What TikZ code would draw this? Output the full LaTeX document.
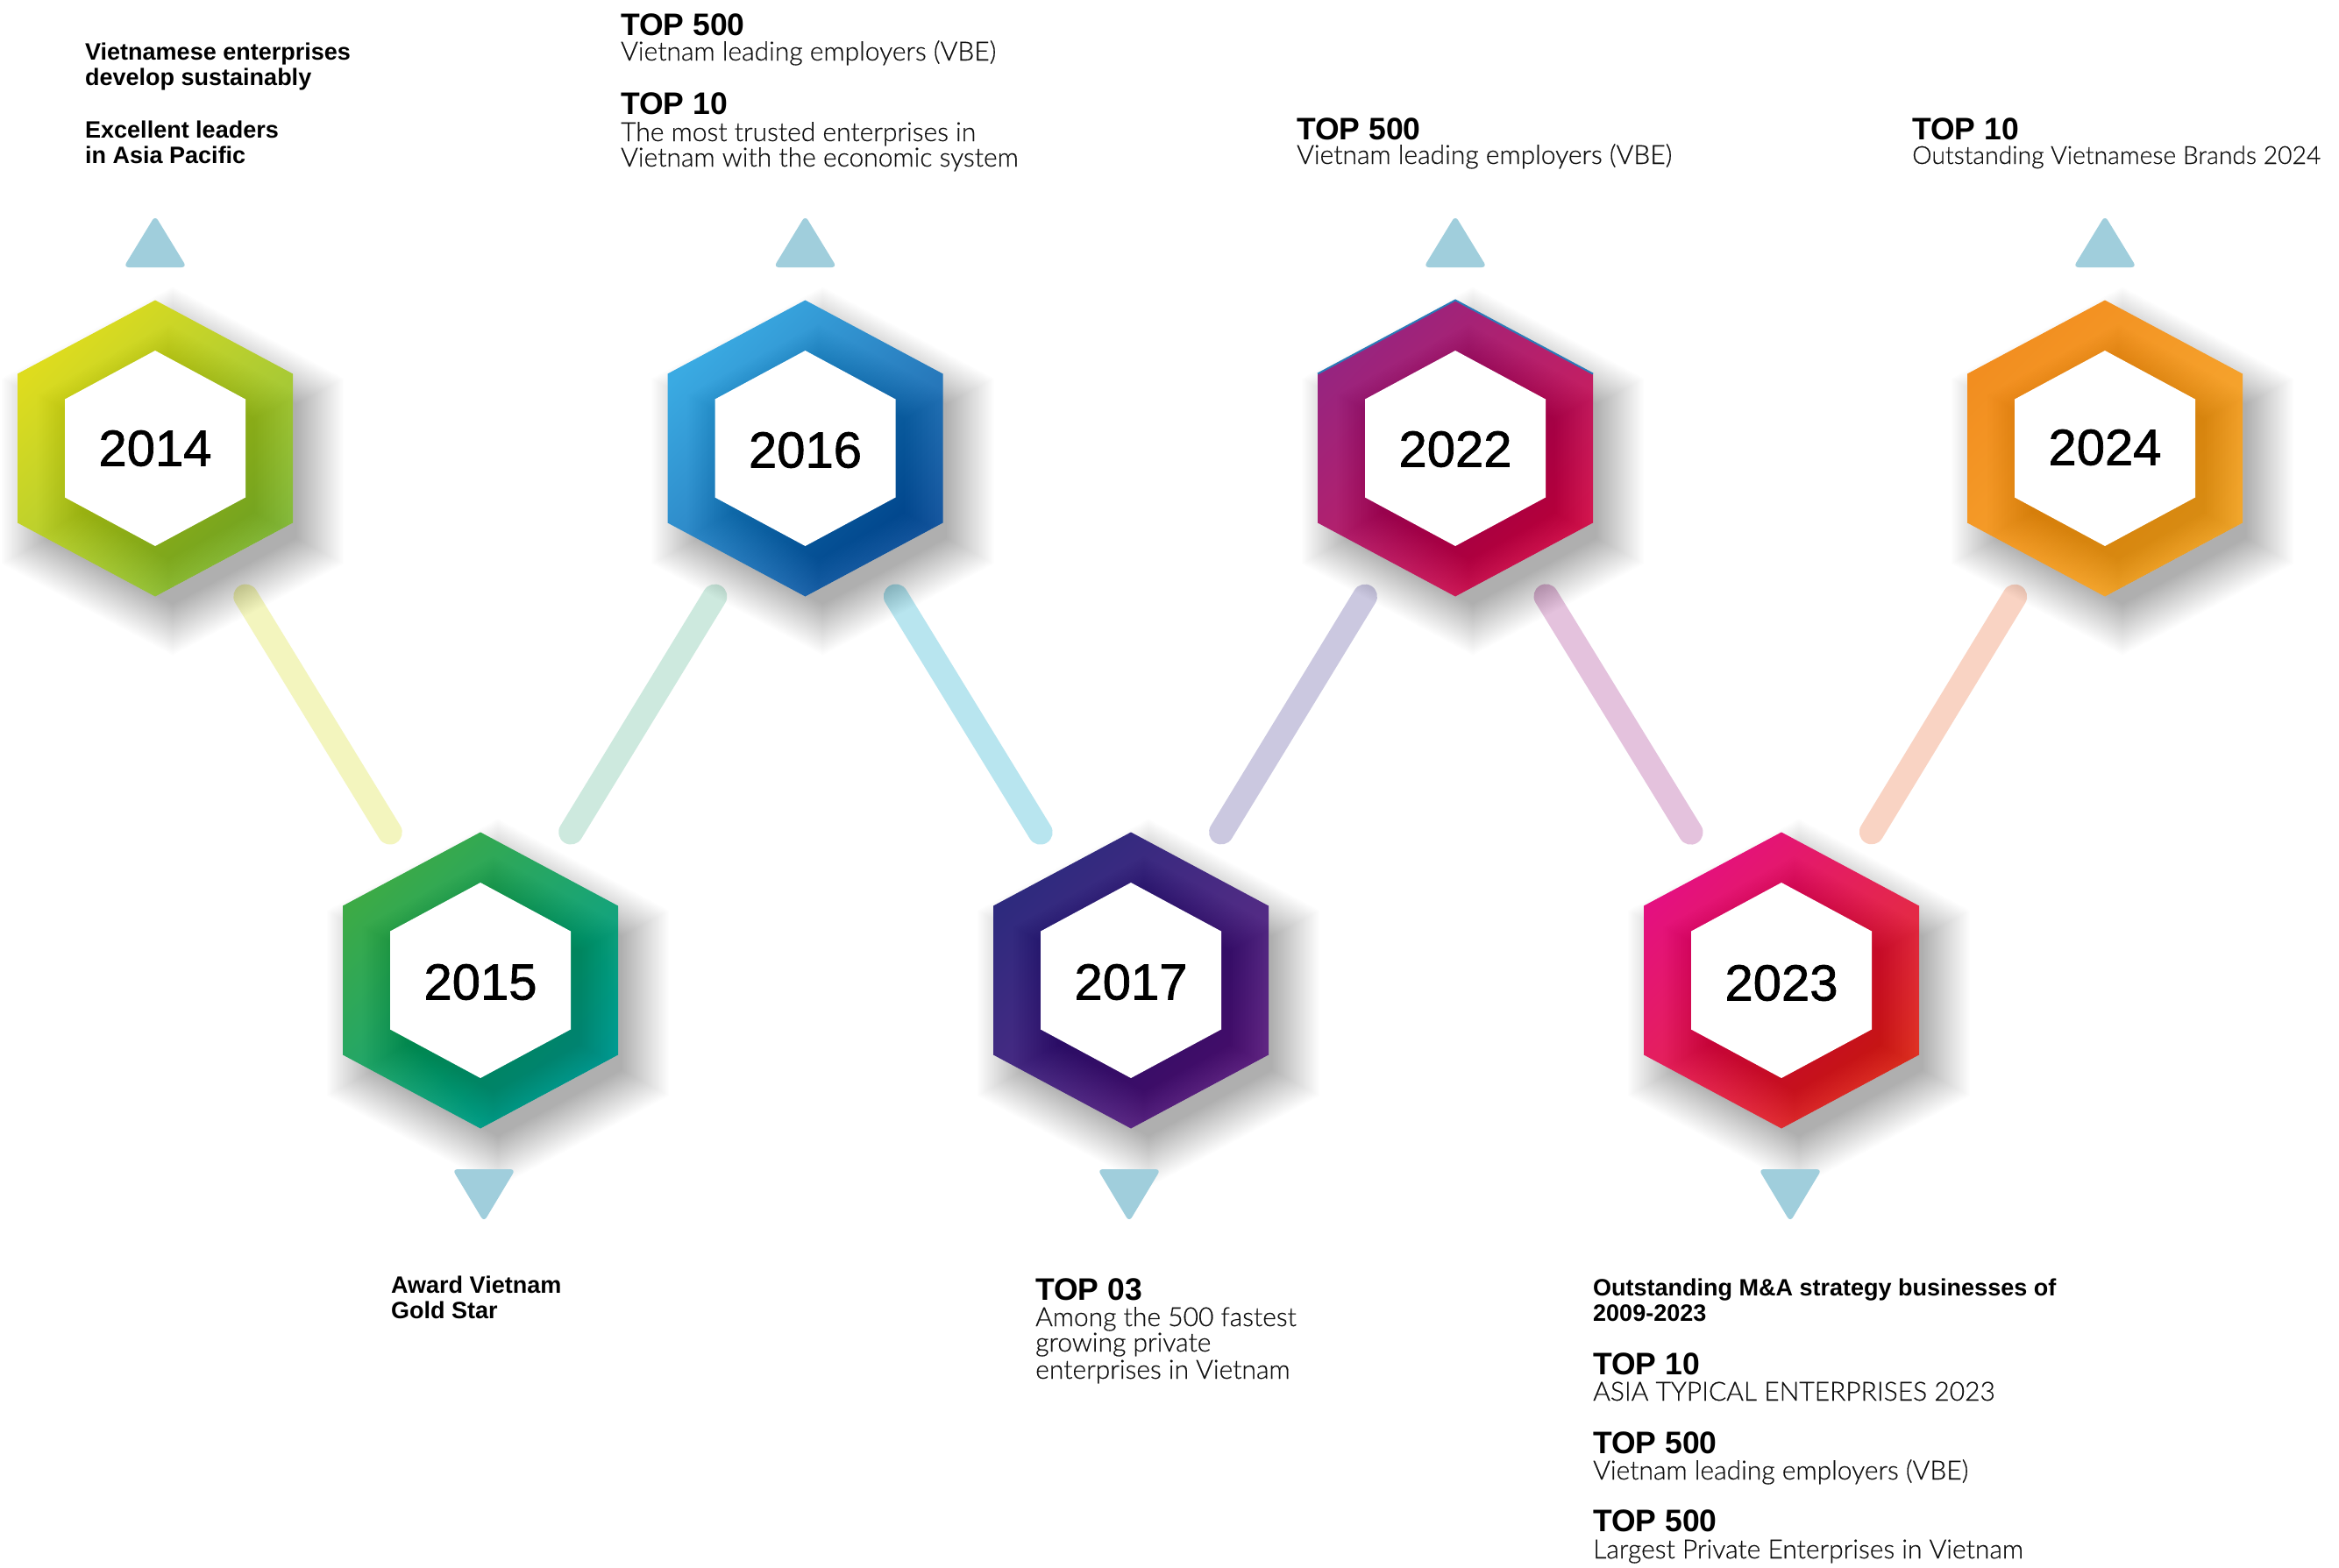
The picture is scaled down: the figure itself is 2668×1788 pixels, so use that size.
\documentclass[tikz,border=0pt]{standalone}
\usepackage{fontspec}
\setmainfont{Liberation Sans}
\IfFontExistsTF{Lato Light}{%
  \newfontfamily\lightfam{Lato Light}[FakeBold=0.4]\newcommand\lightsize{\fontsize{30}{36}\selectfont}\newcommand\lightsmall{\fontsize{28.3}{34}\selectfont}}{%
  \newfontfamily\lightfam{Liberation Sans}\newcommand\lightsize{\fontsize{28.5}{34}\selectfont}\newcommand\lightsmall{\fontsize{27.5}{34}\selectfont}}
\newfontfamily\yearfam{Liberation Sans}[FakeBold=1.2]
\usetikzlibrary{calc}
\definecolor{tricol}{HTML}{A0CEDC}
\definecolor{txtlight}{HTML}{111111}
% ring gradients
\definecolor{aA}{HTML}{DEDC1E}\definecolor{aB}{HTML}{8CC041}
\definecolor{bA}{HTML}{3CAA46}\definecolor{bB}{HTML}{00A096}
\definecolor{cA}{HTML}{3AAAE2}\definecolor{cB}{HTML}{1D5EA6}
\definecolor{dA}{HTML}{2E2A7E}\definecolor{dB}{HTML}{652B88}
\definecolor{eA}{HTML}{97247F}\definecolor{eB}{HTML}{D81C55}
\definecolor{fA}{HTML}{E4107F}\definecolor{fB}{HTML}{E4362A}
\definecolor{gA}{HTML}{F28E20}\definecolor{gB}{HTML}{F7AC32}
% connector colours
\definecolor{k1}{HTML}{F3F5BE}
\definecolor{k2}{HTML}{CDE9DE}
\definecolor{k3}{HTML}{B8E5EF}
\definecolor{k4}{HTML}{CBC8E0}
\definecolor{k5}{HTML}{E4C2DD}
\definecolor{k6}{HTML}{F9D3C3}
\definecolor{edgeblue}{HTML}{2A7AB8}
\newcommand\outerhex{(0,-169) -- (157,-85) -- (157,85) -- (0,169) -- (-157,85) -- (-157,-85) -- cycle}
\newcommand\innerhex{(0,-111.5) -- (103,-56) -- (103,56) -- (0,111.5) -- (-103,56) -- (-103,-56) -- cycle}
\newcommand\headfont{\bfseries\fontsize{35.5}{40}\selectfont}
\newcommand\smallbold{\bfseries\fontsize{27}{30}\selectfont}
\newcommand\lightfont{\lightfam\lightsize}
\newcommand\lightfontsm{\lightfam\lightsmall}
\newcommand\yearfont{\yearfam\fontsize{58}{60}\selectfont}
\tikzset{
  headtxt/.style={anchor=base west, inner sep=0pt, font=\headfont, text=black},
  sbtxt/.style={anchor=base west, inner sep=0pt, font=\smallbold, text=black},
  lttxt/.style={anchor=base west, inner sep=0pt, font=\lightfont, text=txtlight},
  yeartxt/.style={inner sep=0pt, font=\yearfont, text=black},
  conn/.style={line width=28pt, line cap=round},
  tri/.style={fill=tricol, rounded corners=6pt},
}
% #1 name, #2 x, #3 y, #4 colA, #5 colB, #6 year, #7 text dy
\newcommand\hexbadge[7]{%
  \begin{scope}[shift={(#2,#3)}]
    \foreach \k in {0,...,39}{
      \fill[black, opacity=0.0065, shift={(20,26)}, scale={0.9+0.0088*\k}] \outerhex;
    }
    \shade[top color=#4, bottom color=#5, shading angle=45] \outerhex;
    \begin{scope}
      \clip \outerhex;
      \foreach \k in {0,...,29}{
        \fill[black, opacity=0.004, shift={(15,20)}, scale={0.96+0.017*\k}] \innerhex;
      }
    \end{scope}
    \fill[white] \innerhex;
  \end{scope}
  \node[yeartxt] (#1) at (#2,#3+#7) {#6};
}
\begin{document}
\begin{tikzpicture}[x=1pt,y=-1pt]
\fill[white] (0,0) rectangle (2668,1788);
\useasboundingbox (0,0) rectangle (2668,1788);
% hexagon centres
\coordinate (c14) at (177,511.5);
\coordinate (c15) at (548,1118.5);
\coordinate (c16) at (918.5,511.5);
\coordinate (c17) at (1290,1118.5);
\coordinate (c22) at (1660,511.5);
\coordinate (c23) at (2032,1118.5);
\coordinate (c24) at (2401,511.5);
% connectors
\draw[conn, draw=k1] ($(c14)!198pt!(c15)$) -- ($(c15)!198pt!(c14)$);
\draw[conn, draw=k2] ($(c15)!198pt!(c16)$) -- ($(c16)!198pt!(c15)$);
\draw[conn, draw=k3] ($(c16)!198pt!(c17)$) -- ($(c17)!198pt!(c16)$);
\draw[conn, draw=k4] ($(c17)!198pt!(c22)$) -- ($(c22)!198pt!(c17)$);
\draw[conn, draw=k5] ($(c22)!198pt!(c23)$) -- ($(c23)!198pt!(c22)$);
\draw[conn, draw=k6] ($(c23)!198pt!(c24)$) -- ($(c24)!198pt!(c23)$);
% hexagons
\hexbadge{y14}{177}{511.5}{aA}{aB}{2014}{0}
\hexbadge{y15}{548}{1118.5}{bA}{bB}{2015}{2}
\hexbadge{y16}{918.5}{511.5}{cA}{cB}{2016}{2}
\hexbadge{y17}{1290}{1118.5}{dA}{dB}{2017}{2}
\hexbadge{y22}{1660}{511.5}{eA}{eB}{2022}{1}
\hexbadge{y23}{2032}{1118.5}{fA}{fB}{2023}{3}
\hexbadge{y24}{2401}{511.5}{gA}{gB}{2024}{-1}
\draw[edgeblue, line width=2pt, shift={(1660,511.5)}] (-157,-85) -- (0,-169) -- (157,-85);
% triangles
\fill[tri] (177-36,305) -- (177+36,305) -- (177,246) -- cycle;
\fill[tri] (918.5-36,305) -- (918.5+36,305) -- (918.5,246) -- cycle;
\fill[tri] (1660-36,305) -- (1660+36,305) -- (1660,246) -- cycle;
\fill[tri] (2401-36,305) -- (2401+36,305) -- (2401,246) -- cycle;
\fill[tri] (552-36,1334) -- (552+36,1334) -- (552,1394) -- cycle;
\fill[tri] (1288-36,1334) -- (1288+36,1334) -- (1288,1394) -- cycle;
\fill[tri] (2042-36,1334) -- (2042+36,1334) -- (2042,1394) -- cycle;
% 2014 texts
\node[sbtxt] (a1) at (97,68) {Vietnamese enterprises};
\node[sbtxt] (a2) at (97,97) {develop sustainably};
\node[sbtxt] (a3) at (97,157) {Excellent leaders};
\node[sbtxt] (a4) at (97,186) {in Asia Pacific};
% 2016 texts
\node[headtxt] (b1) at (708,40) {TOP 500};
\node[lttxt] (b2) at (708,69) {Vietnam leading employers (VBE)};
\node[headtxt] (b3) at (708,130) {TOP 10};
\node[lttxt] (b4) at (708,161) {The most trusted enterprises in};
\node[lttxt] (b5) at (708,190) {Vietnam with the economic system};
% 2022 texts
\node[headtxt] (e1) at (1479,159) {TOP 500};
\node[lttxt] (e2) at (1479,187) {Vietnam leading employers (VBE)};
% 2024 texts
\node[headtxt] (g1) at (2181,159) {TOP 10};
\node[lttxt, font=\lightfontsm] (g2) at (2181,187) {Outstanding Vietnamese Brands 2024};
% 2015 texts
\node[sbtxt] (f1) at (446,1475) {Award Vietnam};
\node[sbtxt] (f2) at (446,1504) {Gold Star};
% 2017 texts
\node[headtxt] (d1) at (1181,1483) {TOP 03};
\node[lttxt] (d2) at (1181,1513) {Among the 500 fastest};
\node[lttxt] (d3) at (1181,1542) {growing private};
\node[lttxt] (d4) at (1181,1573) {enterprises in Vietnam};
% 2023 texts
\node[sbtxt] (h1) at (1817,1478) {Outstanding M\&A strategy businesses of};
\node[sbtxt] (h2) at (1817,1507) {2009-2023};
\node[headtxt] (h3) at (1817,1568) {TOP 10};
\node[lttxt] (h4) at (1817,1598) {ASIA TYPICAL ENTERPRISES 2023};
\node[headtxt] (h5) at (1817,1658) {TOP 500};
\node[lttxt] (h6) at (1817,1688) {Vietnam leading employers (VBE)};
\node[headtxt] (h7) at (1817,1747) {TOP 500};
\node[lttxt] (h8) at (1817,1778) {Largest Private Enterprises in Vietnam};
\end{tikzpicture}
\end{document}
